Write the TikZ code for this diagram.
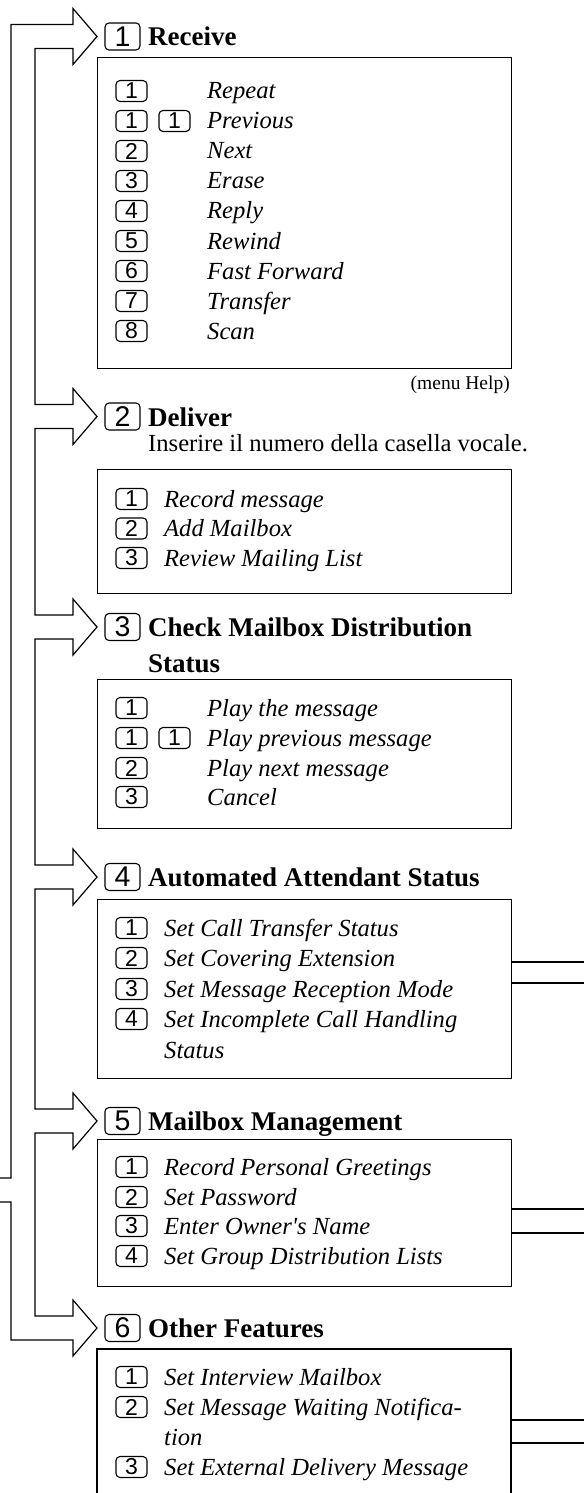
\documentclass[tikz,border=0pt]{standalone}
\usepackage{fontspec}
\setmainfont{Liberation Serif}
\newfontfamily\keyfont{Liberation Sans}
\usetikzlibrary{positioning}

\tikzset{
  keycap/.style={draw, rounded corners=4bp, line width=1.1bp, minimum width=31bp, minimum height=21bp, inner sep=0pt, font=\keyfont\fontsize{23bp}{23bp}\selectfont},
  headkey/.style={keycap, minimum width=35bp, minimum height=27bp, font=\keyfont\fontsize{28.5bp}{28.5bp}\selectfont},
  headtext/.style={anchor=base west, inner sep=0pt, font=\bfseries\fontsize{27bp}{30bp}\selectfont},
  itemtext/.style={anchor=base west, inner sep=0pt, font=\itshape\fontsize{24.6bp}{28bp}\selectfont},
  plaintext/.style={anchor=base west, inner sep=0pt, font=\fontsize{24.6bp}{28bp}\selectfont},
  menubox/.style={draw, line width=1.2bp, anchor=north west, inner sep=0pt, minimum width=414bp},
  wall/.style={line width=1.2bp, line join=miter}
}

\begin{document}
\begin{tikzpicture}[x=1bp, y=-1bp]
\useasboundingbox (0,0) rectangle (584,1493);

% pipe with the six branch arrows
\draw[wall] (0,1178) -- (11,1178) -- (11,24.5) -- (73,24.5) -- (73,8.5) -- (97,36.5) -- (73,64.5) -- (73,48.5) -- (35,48.5)
  -- (35,404.5) -- (73,404.5) -- (73,388.5) -- (97,416.5) -- (73,444.5) -- (73,428.5) -- (35,428.5)
  -- (35,615) -- (73,615) -- (73,599) -- (97,627) -- (73,655) -- (73,639) -- (35,639)
  -- (35,865) -- (73,865) -- (73,849) -- (97,877) -- (73,905) -- (73,889) -- (35,889)
  -- (35,1109) -- (73,1109) -- (73,1093) -- (97,1121) -- (73,1149) -- (73,1133) -- (35,1133)
  -- (35,1316) -- (73,1316) -- (73,1300) -- (97,1328) -- (73,1356) -- (73,1340) -- (11,1340) -- (11,1202) -- (0,1202);

% 1 Receive
\node[headkey] (hk1) at (122.5,36.5) {1};
\node[headtext] (ht1) at (148,46) {Receive};
\node[menubox, minimum height=311bp] (b1) at (97,57) {};
\node[keycap] (k11) at (131.5,91) {1};
\node[itemtext] (i11) at (207,99) {Repeat};
\node[keycap] (k12) at (131.5,121) {1};
\node[keycap] (k12b) at (174.5,121) {1};
\node[itemtext] (i12) at (207,129) {Previous};
\node[keycap] (k13) at (131.5,151) {2};
\node[itemtext] (i13) at (207,159) {Next};
\node[keycap] (k14) at (131.5,181) {3};
\node[itemtext] (i14) at (207,189) {Erase};
\node[keycap] (k15) at (131.5,211) {4};
\node[itemtext] (i15) at (207,219) {Reply};
\node[keycap] (k16) at (131.5,241) {5};
\node[itemtext] (i16) at (207,249) {Rewind};
\node[keycap] (k17) at (131.5,271) {6};
\node[itemtext] (i17) at (207,279) {Fast Forward};
\node[keycap] (k18) at (131.5,301) {7};
\node[itemtext] (i18) at (207,309) {Transfer};
\node[keycap] (k19) at (131.5,331) {8};
\node[itemtext] (i19) at (207,339) {Scan};
\node[anchor=base east, inner sep=0pt, font=\fontsize{19.5bp}{22bp}\selectfont] (help) at (510,389) {(menu Help)};

% 2 Deliver
\node[headkey] (hk2) at (122.5,416.5) {2};
\node[headtext] (ht2) at (148,426) {Deliver};
\node[plaintext] (note2) at (148,451) {Inserire il numero della casella vocale.};
\node[menubox, minimum height=124bp] (b2) at (97,469) {};
\node[keycap] (k21) at (131.5,499) {1};
\node[itemtext] (i21) at (164,507) {Record message};
\node[keycap] (k22) at (131.5,528.5) {2};
\node[itemtext] (i22) at (164,536.5) {Add Mailbox};
\node[keycap] (k23) at (131.5,558) {3};
\node[itemtext] (i23) at (164,566) {Review Mailing List};

% 3 Check Mailbox Distribution Status
\node[headkey] (hk3) at (122.5,627) {3};
\node[headtext] (ht3) at (148,636.5) {Check Mailbox Distribution};
\node[headtext] (ht3b) at (148,672) {Status};
\node[menubox, minimum height=149bp] (b3) at (97,679) {};
\node[keycap] (k31) at (131.5,708) {1};
\node[itemtext] (i31) at (207,716) {Play the message};
\node[keycap] (k32) at (131.5,738) {1};
\node[keycap] (k32b) at (174.5,738) {1};
\node[itemtext] (i32) at (207,746) {Play previous message};
\node[keycap] (k33) at (131.5,768) {2};
\node[itemtext] (i33) at (207,776) {Play next message};
\node[keycap] (k34) at (131.5,797) {3};
\node[itemtext] (i34) at (207,805) {Cancel};

% 4 Automated Attendant Status
\node[headkey] (hk4) at (122.5,877) {4};
\node[headtext] (ht4) at (148,886.5) {Automated Attendant Status};
\node[menubox, minimum height=179bp] (b4) at (97,899) {};
\node[keycap] (k41) at (131.5,928) {1};
\node[itemtext] (i41) at (164,936) {Set Call Transfer Status};
\node[keycap] (k42) at (131.5,958) {2};
\node[itemtext] (i42) at (164,966) {Set Covering Extension};
\node[keycap] (k43) at (131.5,989) {3};
\node[itemtext] (i43) at (164,997) {Set Message Reception Mode};
\node[keycap] (k44) at (131.5,1019) {4};
\node[itemtext] (i44) at (164,1027) {Set Incomplete Call Handling};
\node[itemtext] (i44b) at (164,1058) {Status};
\coordinate (e4a) at (584,962);
\coordinate (e4b) at (584,983);
\draw[wall] (e4a -| b4.east) -- (e4a);
\draw[wall] (e4b -| b4.east) -- (e4b);

% 5 Mailbox Management
\node[headkey] (hk5) at (122.5,1121) {5};
\node[headtext] (ht5) at (148,1130.5) {Mailbox Management};
\node[menubox, minimum height=147bp] (b5) at (97,1139) {};
\node[keycap] (k51) at (131.5,1167) {1};
\node[itemtext] (i51) at (164,1175) {Record Personal Greetings};
\node[keycap] (k52) at (131.5,1197) {2};
\node[itemtext] (i52) at (164,1205) {Set Password};
\node[keycap] (k53) at (131.5,1226) {3};
\node[itemtext] (i53) at (164,1234) {Enter Owner\textquotesingle s Name};
\node[keycap] (k54) at (131.5,1256) {4};
\node[itemtext] (i54) at (164,1264) {Set Group Distribution Lists};
\coordinate (e5a) at (584,1209);
\coordinate (e5b) at (584,1233);
\draw[wall] (e5a -| b5.east) -- (e5a);
\draw[wall] (e5b -| b5.east) -- (e5b);

% 6 Other Features (box runs off the page)
\node[headkey] (hk6) at (122.5,1328) {6};
\node[headtext] (ht6) at (148,1337.5) {Other Features};
\draw[wall] (97,1500) -- (97,1349) -- (511,1349) -- (511,1500);
\node[keycap] (k61) at (131.5,1377) {1};
\node[itemtext] (i61) at (164,1385) {Set Interview Mailbox};
\node[keycap] (k62) at (131.5,1407) {2};
\node[itemtext] (i62) at (164,1415) {Set Message Waiting Notifica-};
\node[itemtext] (i62b) at (164,1445) {tion};
\node[keycap] (k63) at (131.5,1467) {3};
\node[itemtext] (i63) at (164,1475) {Set External Delivery Message};
\coordinate (e6a) at (584,1420);
\coordinate (e6b) at (584,1443);
\draw[wall] (e6a -| 511,0) -- (e6a);
\draw[wall] (e6b -| 511,0) -- (e6b);
\end{tikzpicture}
\end{document}
